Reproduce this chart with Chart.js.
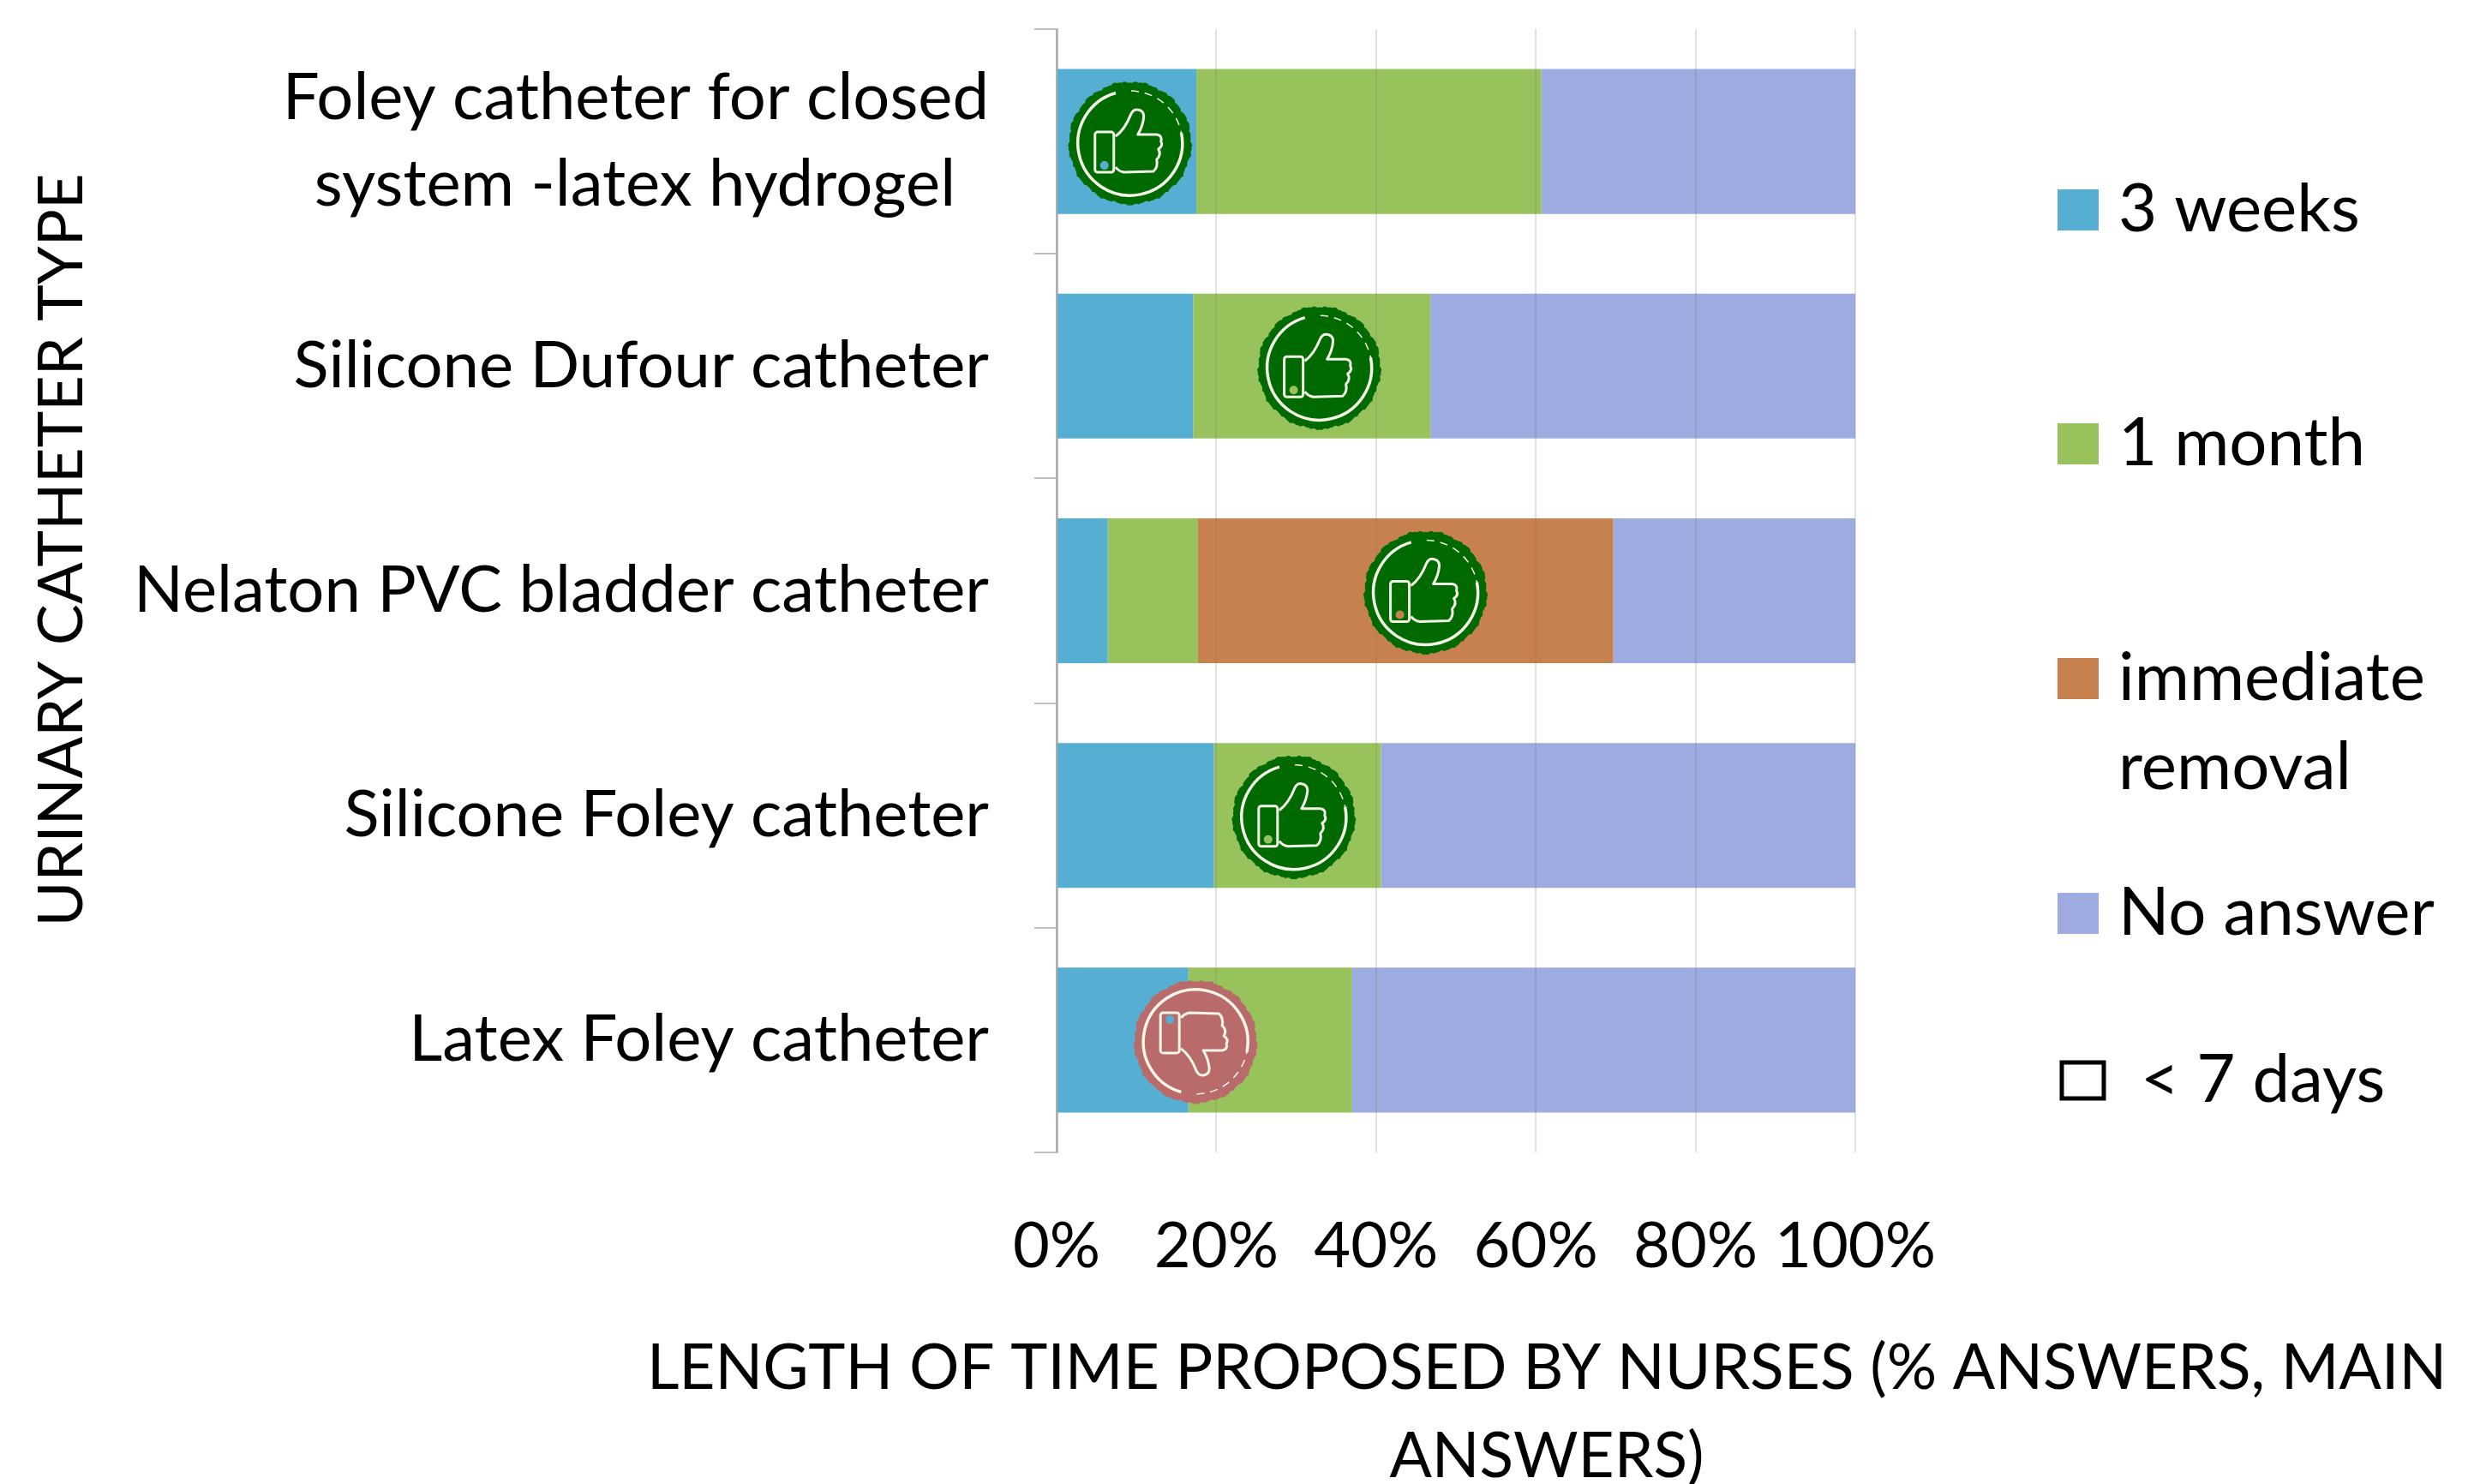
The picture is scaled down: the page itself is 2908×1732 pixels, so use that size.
<!DOCTYPE html>
<html>
<head>
<meta charset="utf-8">
<title>Urinary catheter type</title>
<script src="https://cdn.jsdelivr.net/npm/chart.js@4"></script>
<style>
    html, body { margin: 0; padding: 0; background: #fff; overflow: hidden; }
    canvas { display: block; }
</style>
</head>
<body>
<canvas id="catheterChart" width="2908" height="1732"></canvas>
<script>
const categories = [
    ['Foley catheter for closed', 'system -latex hydrogel'],
    'Silicone Dufour catheter',
    'Nelaton PVC bladder catheter',
    'Silicone Foley catheter',
    'Latex Foley catheter'
];
const threeWeeks = [17.5, 17.1, 6.4, 19.7, 16.5];
const oneMonth = [43.2, 29.7, 11.3, 20.9, 20.5];
const immediateRemoval = [0, 0, 52, 0, 0];
const noAnswer = [39.3, 53.2, 30.3, 59.4, 63];
const underSevenDays = [0, 0, 0, 0, 0];

const xTicks = [0, 20, 40, 60, 80, 100];

// where each thumb badge sits on the bar (% along x) and which way it points
const badgeCenters = [9.2, 32.9, 46.2, 29.7, 17.4];
const badgeVotes = ['up', 'up', 'up', 'up', 'down'];

const FONT = 'Lato, "Noto Sans", sans-serif';
const GREY = '#bfbfbf';

const legendRows = [
    { lines: ['3 weeks'], color: '#56afd2', boxY: 245, textX: 2472 },
    { lines: ['1 month'], color: '#98c35c', boxY: 518, textX: 2472 },
    { lines: ['immediate', 'removal'], color: '#c6814f', boxY: 792, textX: 2472 },
    { lines: ['No answer'], color: '#9dabe0', boxY: 1066, textX: 2472 },
    { lines: ['< 7 days'], color: null, boxY: 1261, textX: 2498 }
];

function drawBadge(ctx, cx, cy, vote) {
    const good = vote === 'up';
    ctx.save();
    ctx.translate(cx, cy);

    // rough stamp edge + punched hole in the cuff, so the bar shows through
    ctx.beginPath();
    for (let a = 0; a < 360; a += 2) {
        const rad = a * Math.PI / 180;
        const r = 71.5 + 0.7 * Math.sin(rad * 13) + 0.6 * Math.sin(rad * 37) + 0.5 * Math.sin(rad * 71);
        ctx.lineTo(r * Math.cos(rad), r * Math.sin(rad));
    }
    ctx.closePath();
    const dotY = good ? 26 : -26;
    ctx.moveTo(-30 + 5, dotY);
    ctx.arc(-30, dotY, 5, 0, Math.PI * 2);
    ctx.fillStyle = good ? '#006a00' : '#b96b6b';
    ctx.fill('evenodd');

    if (!good) ctx.scale(1, -1);
    ctx.strokeStyle = '#f3f5e6';
    ctx.lineJoin = 'round';

    // inner ring, worn away towards the top right
    ctx.lineWidth = 3.5;
    ctx.beginPath();
    ctx.arc(0, 0, 61, -0.2, -1.85 + Math.PI * 2);
    ctx.stroke();
    ctx.lineWidth = 1.5;
    ctx.setLineDash([9, 7]);
    ctx.beginPath();
    ctx.arc(0, 0, 61, -1.55, -0.2);
    ctx.stroke();
    ctx.setLineDash([]);

    // cuff
    ctx.lineWidth = 3;
    ctx.beginPath();
    ctx.roundRect(-41, -13, 22, 47, 3);
    ctx.stroke();

    // hand
    ctx.beginPath();
    ctx.moveTo(-17, -8);
    ctx.quadraticCurveTo(-6, -16, 1, -34);
    ctx.quadraticCurveTo(4, -40, 9, -39);
    ctx.quadraticCurveTo(16, -38, 16, -31);
    ctx.quadraticCurveTo(15, -20, 9, -10);
    ctx.lineTo(31, -10);
    ctx.quadraticCurveTo(38, -9, 36, -2);
    ctx.quadraticCurveTo(39, 3, 33, 7);
    ctx.quadraticCurveTo(37, 13, 31, 19);
    ctx.quadraticCurveTo(33, 28, 27, 33);
    ctx.lineTo(-7, 34);
    ctx.quadraticCurveTo(-13, 33, -17, 28);
    ctx.stroke();

    ctx.restore();
}

const badgePlugin = {
    id: 'badges',
    afterDraw(chart) {
        const ctx = chart.ctx;
        badgeCenters.forEach((value, i) => {
            const x = chart.scales.x.getPixelForValue(value);
            const y = chart.scales.y.getPixelForValue(i) + 2;
            drawBadge(ctx, x, y, badgeVotes[i]);
        });
    }
};

const textPlugin = {
    id: 'sideTexts',
    afterDraw(chart) {
        const ctx = chart.ctx;
        ctx.save();
        ctx.fillStyle = '#000';
        ctx.textBaseline = 'middle';

        // axis titles are off-centre from the plot in the original
        ctx.textAlign = 'center';
        ctx.font = `73px ${FONT}`;
        ctx.fillText('LENGTH OF TIME PROPOSED BY NURSES (% ANSWERS, MAIN', 1805, 1597);
        ctx.fillText('ANSWERS)', 1805, 1700);
        ctx.save();
        ctx.translate(73, 642);
        ctx.rotate(-Math.PI / 2);
        ctx.font = `72px ${FONT}`;
        ctx.fillText('URINARY CATHETER TYPE', 0, 0);
        ctx.restore();

        // legend
        ctx.textAlign = 'left';
        ctx.font = `78px ${FONT}`;
        legendRows.forEach(row => {
            if (row.color) {
                ctx.fillStyle = row.color;
                ctx.fillRect(2401, row.boxY - 24, 48, 48);
            } else {
                ctx.strokeStyle = '#000';
                ctx.lineWidth = 5;
                ctx.strokeRect(2406, row.boxY - 21, 49, 42);
            }
            ctx.fillStyle = '#000';
            row.lines.forEach((line, i) => {
                ctx.fillText(line, row.textX, row.boxY + i * 104);
            });
        });
        ctx.restore();
    }
};

function series(label, data, color) {
    return {
        label,
        data,
        backgroundColor: color,
        barPercentage: 0.645,
        categoryPercentage: 1
    };
}

new Chart(document.getElementById('catheterChart'), {
    type: 'bar',
    data: {
        labels: categories,
        datasets: [
            series('3 weeks', threeWeeks, '#56afd2'),
            series('1 month', oneMonth, '#98c35c'),
            series('immediate removal', immediateRemoval, '#c6814f'),
            series('No answer', noAnswer, '#9dabe0'),
            series('< 7 days', underSevenDays, '#ffffff')
        ]
    },
    options: {
        indexAxis: 'y',
        responsive: false,
        animation: false,
        layout: { padding: { left: 0, right: 743, top: 34, bottom: 0 } },
        plugins: {
            legend: { display: false },
            title: { display: false },
            tooltip: { enabled: false }
        },
        scales: {
            x: {
                stacked: true,
                min: 0,
                max: 100,
                afterBuildTicks: scale => {
                    scale.ticks = xTicks.map(value => ({ value }));
                },
                afterFit: scale => { scale.height = 387; },
                border: { display: false },
                grid: { color: 'rgba(120,120,120,0.22)', lineWidth: 2, drawTicks: false, z: 1 },
                ticks: {
                    autoSkip: false,
                    maxRotation: 0,
                    padding: 66,
                    color: '#000',
                    font: { family: FONT, size: 74 },
                    callback: value => `${value}%`
                }
            },
            y: {
                stacked: true,
                afterFit: scale => {
                    scale.width = 1233;
                    // tall first label must not push the plot down
                    scale.paddingTop = 0;
                    scale.paddingBottom = 0;
                },
                border: { display: true, color: GREY, width: 3 },
                grid: { color: GREY, lineWidth: 2, drawOnChartArea: false, tickLength: 26 },
                ticks: {
                    autoSkip: false,
                    padding: 53,
                    color: '#000',
                    font: { family: FONT, size: 76, lineHeight: 1.32 },
                    // trailing spaces keep the two-line label centred on itself
                    callback: value => {
                        const label = categories[value];
                        return Array.isArray(label) ? [label[0], label[1] + '  '] : label;
                    }
                }
            }
        }
    },
    plugins: [badgePlugin, textPlugin]
});
</script>
</body>
</html>
